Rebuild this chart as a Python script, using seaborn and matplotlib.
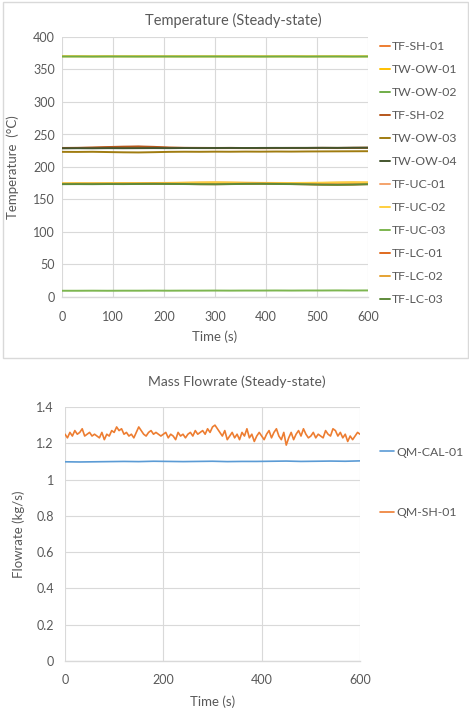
import numpy as np
import pandas as pd
import matplotlib
matplotlib.use("Agg")
import matplotlib.pyplot as plt
import seaborn as sns
from matplotlib.patches import Rectangle
from matplotlib.ticker import FuncFormatter, MultipleLocator

# ---------------- data ----------------
t_temp = [0, 30, 60, 90, 120, 150, 180, 210, 240, 270, 300, 330, 360, 390, 420, 450, 480, 510, 540, 570, 600]

temp_series = ["TF-SH-01", "TW-OW-01", "TW-OW-02", "TF-SH-02", "TW-OW-03", "TW-OW-04",
               "TF-UC-01", "TF-UC-02", "TF-UC-03", "TF-LC-01", "TF-LC-02", "TF-LC-03"]

tf_sh_01 = [229.0, 229.2, 229.5, 230.0, 230.6, 231.0, 230.4, 229.6, 229.3, 229.2, 229.0, 229.1, 229.0, 228.9, 229.0, 229.1, 229.0, 229.2, 229.1, 229.3, 229.4]
tw_ow_01 = [370.3, 370.3, 370.2, 370.3, 370.2, 370.3, 370.2, 370.2, 370.3, 370.2, 370.2, 370.3, 370.2, 370.2, 370.2, 370.3, 370.2, 370.2, 370.3, 370.2, 370.2]
tw_ow_02 = [370.0, 370.0, 369.9, 370.0, 370.0, 369.9, 370.0, 370.0, 369.9, 370.0, 370.0, 369.9, 370.0, 369.9, 370.0, 370.0, 369.9, 370.0, 370.0, 369.9, 370.0]
tf_sh_02 = [229.3, 229.5, 230.0, 230.7, 231.3, 231.6, 231.0, 229.9, 229.5, 229.4, 229.3, 229.4, 229.2, 229.3, 229.2, 229.4, 229.3, 229.5, 229.4, 229.6, 229.7]
tw_ow_03 = [223.3, 223.2, 223.4, 223.0, 222.6, 222.4, 222.8, 223.3, 223.5, 223.4, 223.6, 223.5, 223.7, 223.6, 223.8, 223.7, 223.9, 224.0, 224.1, 224.2, 224.3]
tw_ow_04 = [228.8, 228.9, 228.8, 229.0, 228.9, 229.0, 229.1, 229.0, 229.2, 229.1, 229.2, 229.3, 229.2, 229.3, 229.4, 229.3, 229.4, 229.5, 229.4, 229.6, 229.7]
tf_uc_01 = [174.6, 174.8, 174.7, 175.0, 174.9, 175.1, 175.3, 175.2, 175.6, 176.0, 176.2, 175.9, 175.6, 175.4, 175.2, 175.0, 175.1, 175.4, 175.8, 176.1, 176.0]
tf_uc_02 = [175.0, 175.1, 175.0, 175.2, 175.3, 175.2, 175.4, 175.6, 175.9, 176.3, 176.5, 176.2, 175.8, 175.6, 175.5, 175.4, 175.6, 175.9, 176.3, 176.6, 176.4]
tf_uc_03 = [9.6, 9.6, 9.7, 9.6, 9.7, 9.7, 9.8, 9.7, 9.8, 9.8, 9.9, 9.8, 9.9, 9.9, 10.0, 9.9, 10.0, 10.0, 10.1, 10.0, 10.1]
tf_lc_01 = [173.8, 173.9, 174.0, 173.9, 174.1, 174.0, 174.2, 174.1, 173.9, 173.6, 173.5, 173.8, 174.1, 174.2, 174.0, 173.8, 173.4, 172.9, 172.7, 173.0, 173.6]
tf_lc_02 = [174.2, 174.3, 174.2, 174.4, 174.3, 174.5, 174.6, 174.4, 174.3, 174.0, 173.9, 174.2, 174.5, 174.6, 174.4, 174.2, 173.8, 173.3, 173.1, 173.5, 174.1]
tf_lc_03 = [173.6, 173.7, 173.6, 173.8, 173.7, 173.9, 174.0, 173.9, 173.8, 173.5, 173.4, 173.7, 174.0, 174.1, 173.9, 173.7, 173.3, 172.8, 172.6, 172.9, 173.5]

temp_values = [tf_sh_01, tw_ow_01, tw_ow_02, tf_sh_02, tw_ow_03, tw_ow_04,
               tf_uc_01, tf_uc_02, tf_uc_03, tf_lc_01, tf_lc_02, tf_lc_03]

temp_colors = ["#ED7D31", "#FFC000", "#70AD47", "#B5561B", "#A07C10", "#43552E",
               "#F4A36B", "#FFCF3F", "#7DB650", "#E06A1E", "#E5A233", "#5E8A3A"]

t_cal = [0, 30, 60, 90, 120, 150, 180, 210, 240, 270, 300, 330, 360, 390, 420, 450, 480, 510, 540, 570, 600]
qm_cal_01 = [1.098, 1.097, 1.098, 1.099, 1.100, 1.099, 1.101, 1.100, 1.099, 1.100, 1.101, 1.099,
             1.100, 1.100, 1.101, 1.102, 1.100, 1.101, 1.102, 1.101, 1.103]

t_sh = list(range(0, 605, 5))
qm_sh_01 = [1.25, 1.23, 1.26, 1.24, 1.27, 1.25, 1.26, 1.28, 1.24, 1.25,
            1.26, 1.24, 1.25, 1.24, 1.23, 1.26, 1.22, 1.25, 1.24, 1.27,
            1.26, 1.29, 1.27, 1.28, 1.25, 1.26, 1.24, 1.25, 1.23, 1.26,
            1.29, 1.27, 1.25, 1.24, 1.26, 1.27, 1.25, 1.26, 1.25, 1.24,
            1.25, 1.26, 1.23, 1.25, 1.24, 1.22, 1.26, 1.24, 1.25, 1.23,
            1.25, 1.26, 1.24, 1.27, 1.25, 1.26, 1.27, 1.25, 1.28, 1.26,
            1.29, 1.30, 1.28, 1.26, 1.24, 1.27, 1.22, 1.24, 1.26, 1.23,
            1.25, 1.22, 1.26, 1.24, 1.28, 1.23, 1.25, 1.21, 1.24, 1.26,
            1.24, 1.22, 1.25, 1.27, 1.23, 1.26, 1.28, 1.24, 1.22, 1.26,
            1.19, 1.23, 1.26, 1.22, 1.25, 1.27, 1.24, 1.28, 1.25, 1.23,
            1.24, 1.26, 1.23, 1.25, 1.24, 1.23, 1.27, 1.25, 1.24, 1.28,
            1.27, 1.24, 1.26, 1.23, 1.25, 1.21, 1.24, 1.22, 1.24, 1.26,
            1.25]

flow_series = ["QM-CAL-01", "QM-SH-01"]
flow_colors = ["#5B9BD5", "#ED7D31"]

# ---------------- style ----------------
sns.set_style("white")
plt.rcParams["font.family"] = ["Lato", "DejaVu Sans"]
TXT = "#595959"
GRID = "#D9D9D9"
TICK_FS = 9
LABEL_FS = 9.5
LEG_FS = 8.8

W, H = 469, 722
fig = plt.figure(figsize=(W / 100, H / 100), dpi=100)

def fx(px):
    return px / W

def fy(py):
    return 1 - py / H

# frame around top chart
fig.patches.append(Rectangle((fx(3), fy(358)), fx(468) - fx(3), fy(2) - fy(358),
                             transform=fig.transFigure, fill=False, edgecolor=GRID, lw=1.0))

def style_axes(ax):
    for s in ["top", "right", "left"]:
        ax.spines[s].set_visible(False)
    ax.spines["bottom"].set_color(GRID)
    ax.spines["bottom"].set_linewidth(1.0)
    ax.grid(True, color=GRID, lw=0.8)
    ax.set_axisbelow(True)
    ax.tick_params(axis="both", length=0, colors=TXT, labelsize=TICK_FS)

# ---------------- top chart ----------------
ax1 = fig.add_axes([fx(62), fy(297), fx(368) - fx(62), fy(37) - fy(297)])
rows = []
for name, vals in zip(temp_series, temp_values):
    for tt, v in zip(t_temp, vals):
        rows.append((name, tt, v))
df_t = pd.DataFrame(rows, columns=["series", "time", "value"])
sns.lineplot(data=df_t, x="time", y="value", hue="series", hue_order=temp_series,
             palette=temp_colors, lw=1.4, ax=ax1, legend=True)
ax1.set_xlim(0, 600)
ax1.set_ylim(0, 400)
ax1.xaxis.set_major_locator(MultipleLocator(100))
ax1.yaxis.set_major_locator(MultipleLocator(50))
style_axes(ax1)
ax1.tick_params(axis="x", pad=10)
ax1.tick_params(axis="y", pad=5)
ax1.set_xlabel("Time (s)", color=TXT, fontsize=LABEL_FS)
ax1.set_ylabel("Temperature  (°C)", color=TXT, fontsize=LABEL_FS)
ax1.xaxis.set_label_coords(0.5, -0.128)
ax1.yaxis.set_label_coords(-0.14, 0.5)
h, l = ax1.get_legend_handles_labels()
ax1.legend(h, l, loc="upper left", bbox_to_anchor=(fx(380), fy(41.5)),
           bbox_transform=fig.transFigure, frameon=False, fontsize=LEG_FS,
           handlelength=0.8, handletextpad=0.15, labelspacing=0.98, borderpad=0,
           borderaxespad=0, labelcolor=TXT)
fig.text(fx(233), fy(20), "Temperature (Steady-state)", ha="center", va="center",
         fontsize=10.5, color=TXT)

# ---------------- bottom chart ----------------
ax2 = fig.add_axes([fx(65), fy(661), fx(360) - fx(65), fy(407) - fy(661)])
df_f = pd.DataFrame({
    "series": ["QM-CAL-01"] * len(t_cal) + ["QM-SH-01"] * len(t_sh),
    "time": list(t_cal) + list(t_sh),
    "value": list(qm_cal_01) + list(qm_sh_01),
})
sns.lineplot(data=df_f, x="time", y="value", hue="series", hue_order=flow_series,
             palette=flow_colors, lw=1.2, ax=ax2, legend=True)
ax2.set_xlim(0, 600)
ax2.set_ylim(0, 1.4)
ax2.xaxis.set_major_locator(MultipleLocator(200))
ax2.yaxis.set_major_locator(MultipleLocator(0.2))
ax2.yaxis.set_major_formatter(FuncFormatter(lambda v, p: f"{round(v, 1):g}"))
style_axes(ax2)
ax2.tick_params(axis="x", pad=9)
ax2.tick_params(axis="y", pad=8)
ax2.set_xlabel("Time (s)", color=TXT, fontsize=LABEL_FS)
ax2.set_ylabel("Flowrate (kg/s)", color=TXT, fontsize=LABEL_FS)
ax2.xaxis.set_label_coords(0.5, -0.135)
ax2.yaxis.set_label_coords(-0.135, 0.5)
h, l = ax2.get_legend_handles_labels()
ax2.legend(h, l, loc="upper left", bbox_to_anchor=(fx(380), fy(446.5)),
           bbox_transform=fig.transFigure, frameon=False, fontsize=LEG_FS,
           handlelength=1.15, handletextpad=0.15, labelspacing=4.05, borderpad=0,
           borderaxespad=0, labelcolor=TXT)
fig.text(fx(237), fy(382), "Mass Flowrate (Steady-state)", ha="center", va="center",
         fontsize=10, color=TXT)

fig.savefig("out.png", dpi=100, facecolor="white")
